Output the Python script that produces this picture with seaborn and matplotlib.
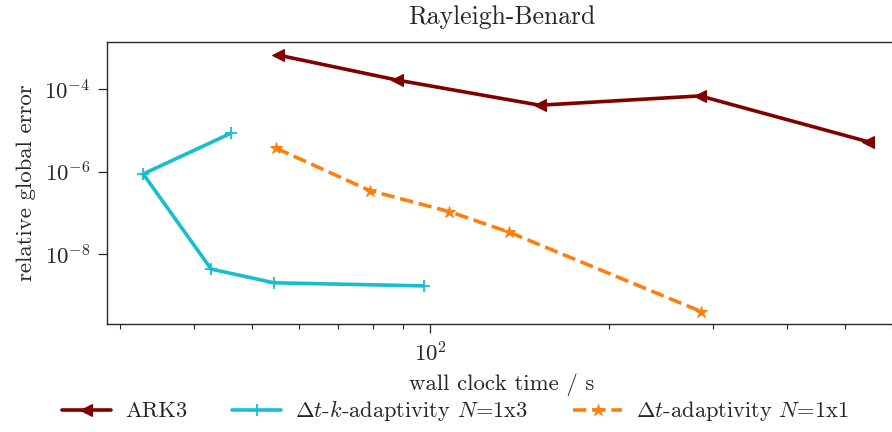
import numpy as np
import pandas as pd
import matplotlib
matplotlib.use("Agg")
import matplotlib.pyplot as plt
import matplotlib.ticker as mticker
import seaborn as sns

# Data
ark3_time = [55.3, 87.8, 153.0, 285.0, 548.0]
ark3_err = [6.8e-4, 1.68e-4, 4.1e-5, 6.9e-5, 5.3e-6]

dtk_time = [46.1, 32.8, 42.7, 54.5, 97.6]
dtk_err = [8.55e-6, 8.8e-7, 4.3e-9, 2.0e-9, 1.68e-9]

dt_time = [55.0, 79.1, 107.7, 135.9, 286.4]
dt_err = [3.7e-6, 3.46e-7, 1.07e-7, 3.38e-8, 4.0e-10]

labels = ["ARK3", r"$\Delta t$-$k$-adaptivity $N$=1x3", r"$\Delta t$-adaptivity $N$=1x1"]
title = "Rayleigh-Benard"
xlabel = "wall clock time / s"
ylabel = "relative global error"

sns.set_style("ticks")
plt.rcParams["font.family"] = ["cmr10", "DejaVu Serif"]
plt.rcParams["mathtext.fontset"] = "cm"
plt.rcParams["axes.formatter.use_mathtext"] = True
plt.rcParams["axes.unicode_minus"] = True

fig = plt.figure(figsize=(8.92, 4.32), dpi=100)
ax = fig.add_axes([107/892, 1-324/432, (896-107)/892, (324-42)/432])

sns.lineplot(x=ark3_time, y=ark3_err, sort=False, ax=ax, color="#800000",
             marker="<", markersize=9, markeredgecolor="#800000", linewidth=2.6, label=labels[0])
sns.lineplot(x=dtk_time, y=dtk_err, sort=False, ax=ax, color="#17becf",
             marker="+", markersize=9, markeredgewidth=1.3, markeredgecolor="#17becf", linewidth=2.6, label=labels[1])
sns.lineplot(x=dt_time, y=dt_err, sort=False, ax=ax, color="#ff7f0e",
             marker="*", markersize=9, markeredgecolor="#ff7f0e", linewidth=2.6, linestyle="--", label=labels[2])

ax.set_xscale("log")
ax.set_yscale("log")
ax.set_xlim(28.5, 610)
ax.set_ylim(10**-9.70, 10**-2.852)
ax.set_yticks([1e-8, 1e-6, 1e-4])
ax.yaxis.set_minor_locator(mticker.NullLocator())
ax.xaxis.set_minor_formatter(mticker.NullFormatter())

for s in ax.spines.values():
    s.set_linewidth(1.0)
ax.tick_params(axis="both", which="major", length=6.5, width=0.9, labelsize=16.5, pad=5.5)
ax.tick_params(axis="x", which="minor", length=3.8, width=0.8)

ax.set_title(title, fontsize=18.5, pad=13)
ax.set_xlabel(xlabel, fontsize=16.4, labelpad=6)
ax.set_ylabel(ylabel, fontsize=16.4, labelpad=6)

ax.get_legend().remove()
h, l = ax.get_legend_handles_labels()
fig.legend(h, l, loc="lower center", ncol=3, frameon=False, fontsize=16.2,
           bbox_to_anchor=(0.511, -0.027), columnspacing=2.0, handlelength=2.15,
           handletextpad=0.65)

fig.savefig("out.png", dpi=100)
